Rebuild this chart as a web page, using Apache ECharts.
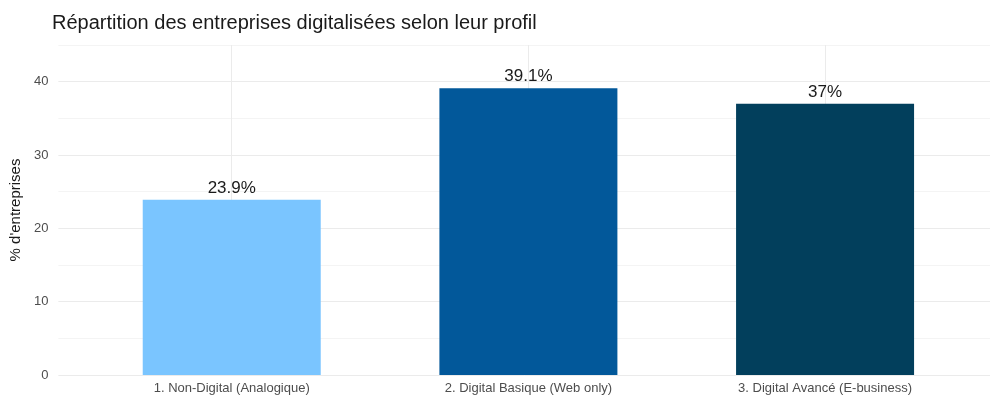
<!DOCTYPE html>
<html>
<head>
<meta charset="utf-8">
<script src="https://cdn.jsdelivr.net/npm/echarts@6/dist/echarts.min.js"></script>
<style>
  html, body { margin: 0; padding: 0; background: #fff; }
  #chart { width: 990px; height: 396px; }
</style>
</head>
<body>
<div id="chart"></div>
<script>
// Profils de digitalisation et part des entreprises (%)
const categories = ['1. Non-Digital (Analogique)', '2. Digital Basique (Web only)', '3. Digital Avancé (E-business)'];
const shares = [23.9, 39.1, 37];
const barColors = ['#7AC5FF', '#02589A', '#023F5C'];
const yTicks = [0, 10, 20, 30, 40];

const FONT = '"Liberation Sans", Arial, sans-serif';

const chart = echarts.init(document.getElementById('chart'), null, { renderer: 'canvas' });

chart.setOption({
  backgroundColor: '#ffffff',
  animation: false,
  title: {
    text: 'Répartition des entreprises digitalisées selon leur profil',
    left: 52,
    top: 13,
    padding: 0,
    textStyle: { fontFamily: FONT, fontSize: 20, fontWeight: 'normal', color: '#1a1a1a' }
  },
  grid: [
    // full panel: horizontal grid lines and y labels
    { left: 53, right: 0, top: 45, bottom: 21, containLabel: false },
    // bar area: category slots
    { left: 83.4, right: 16.6, top: 45, bottom: 21, containLabel: false },
    // vertical grid lines through the category centres
    { left: 231.7, right: 165, top: 45, bottom: 21, containLabel: false }
  ],
  xAxis: [
    { gridIndex: 0, type: 'value', min: 0, max: 1, show: false },
    {
      gridIndex: 1,
      type: 'category',
      data: categories,
      boundaryGap: true,
      axisLine: { show: false },
      axisTick: { show: false },
      axisLabel: { margin: 7, fontFamily: FONT, fontSize: 13, color: '#4d4d4d' },
      splitLine: { show: false }
    },
    {
      gridIndex: 2,
      type: 'category',
      data: categories,
      boundaryGap: false,
      axisLine: { show: false },
      axisTick: { show: false },
      axisLabel: { show: false },
      splitLine: { show: true, lineStyle: { color: '#ebebeb', width: 1 } }
    }
  ],
  yAxis: [
    {
      gridIndex: 0,
      type: 'value',
      min: 0,
      max: 45,
      interval: 5,
      name: "% d'entreprises",
      nameLocation: 'middle',
      nameGap: 25,
      nameTextStyle: { fontFamily: FONT, fontSize: 15, color: '#1a1a1a' },
      axisLine: { show: false },
      axisTick: { show: false },
      axisLabel: {
        margin: 10,
        fontFamily: FONT,
        fontSize: 13,
        color: '#4d4d4d',
        formatter: v => (yTicks.includes(v) ? String(v) : '')
      },
      splitLine: { show: true, lineStyle: { color: ['#ebebeb', '#f4f4f4'], width: 1 } }
    },
    { gridIndex: 1, type: 'value', min: 0, max: 45, interval: 5, show: false, splitLine: { show: false } },
    { gridIndex: 2, type: 'value', min: 0, max: 45, interval: 5, show: false, splitLine: { show: false } }
  ],
  series: [
    {
      type: 'bar',
      xAxisIndex: 1,
      yAxisIndex: 1,
      barWidth: '60%',
      z: 3,
      data: shares.map((v, i) => ({ value: v, itemStyle: { color: barColors[i] } })),
      label: {
        show: true,
        position: 'top',
        distance: 3,
        fontFamily: FONT,
        fontSize: 17,
        color: '#1a1a1a',
        formatter: p => p.value + '%'
      }
    }
  ]
});
</script>
</body>
</html>
